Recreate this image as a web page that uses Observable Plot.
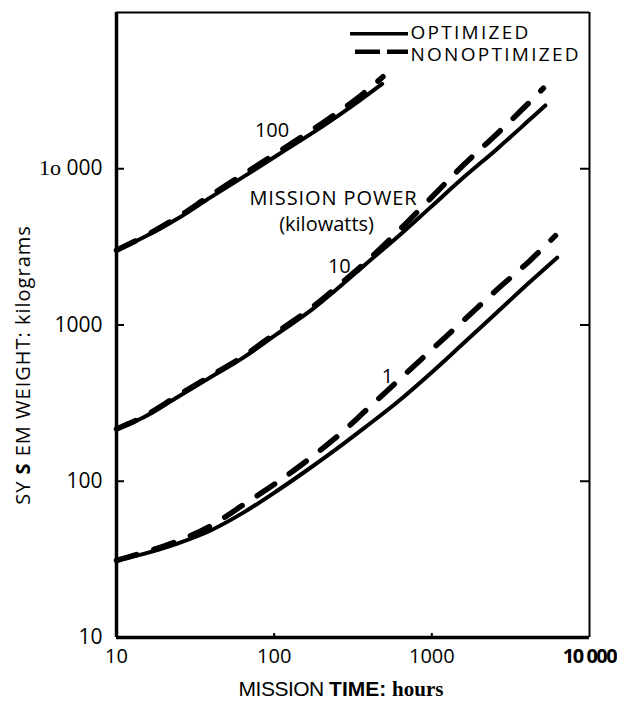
<!DOCTYPE html>
<html><head><meta charset="utf-8">
<script src="https://cdn.jsdelivr.net/npm/d3@7"></script>
<script src="https://cdn.jsdelivr.net/npm/@observablehq/plot@0.6"></script>
<style>
html,body{margin:0;padding:0;background:#fff;}
</style></head><body><div id="chart"></div>
<script>
// ---- data ----
const time100Opt   = [10, 14.9, 24.3, 39.5, 70.8, 121, 206, 336, 484];
const weight100Opt = [3010, 3640, 4780, 6560, 9480, 13400, 18900, 26600, 34900];
const time100Non   = [10, 14.9, 24.3, 39.5, 70.8, 121, 206, 336, 490];
const weight100Non = [3010, 3680, 4880, 6760, 9860, 13940, 19850, 28200, 38800];

const time10Opt   = [10, 14.9, 24.3, 39.5, 64.1, 104.5, 170, 276, 370, 603, 980, 1593, 2594, 4217, 5250];
const weight10Opt = [216, 257, 345, 463, 621, 877, 1236, 1850, 2390, 3640, 5660, 8810, 13400, 20800, 25400];
const time10Non   = [10, 14.9, 24.3, 39.5, 64.1, 104.5, 170, 276, 370, 603, 980, 1593, 2594, 4217, 5100];
const weight10Non = [216, 260, 352, 472, 633, 903, 1273, 1906, 2460, 3930, 6450, 10600, 16750, 27000, 32800];

const time1Opt   = [10, 14.9, 24.3, 39.5, 64.1, 104.5, 170, 276, 370, 603, 980, 1593, 2594, 4217, 6240];
const weight1Opt = [31.1, 34.3, 39.9, 48.4, 63.2, 86.9, 122, 174, 218, 320, 489, 767, 1208, 1897, 2700];
const time1Non   = [10, 14.9, 24.3, 39.5, 64.1, 104.5, 170, 276, 370, 603, 980, 1593, 2594, 4217, 6080];
const weight1Non = [31.1, 35.0, 41.4, 51.8, 71, 98.4, 141, 210, 276, 435, 683, 1072, 1687, 2600, 3730];

const xTickValues = [10, 100, 1000, 10000];
const xTickLabels = ["10", "100", "1000", "10 000"];
const yTickValues = [10, 100, 1000, 10000];
const yTickLabels = ["10", "100", "1000", "1o 000"];

const kinds = ["OPTIMIZED", "NONOPTIMIZED"];
const powerLabels = ["100", "10", "1"];
const xTitle = "MISSION TIME: hours";
const yTitle = "SY S EM WEIGHT: kilograms";
const powerTitle = "MISSION POWER";
const powerUnit = "(kilowatts)";

const series = [
  {power: "100", kind: "OPTIMIZED", times: time100Opt, weights: weight100Opt},
  {power: "100", kind: "NONOPTIMIZED", times: time100Non, weights: weight100Non},
  {power: "10", kind: "OPTIMIZED", times: time10Opt, weights: weight10Opt},
  {power: "10", kind: "NONOPTIMIZED", times: time10Non, weights: weight10Non},
  {power: "1", kind: "OPTIMIZED", times: time1Opt, weights: weight1Opt},
  {power: "1", kind: "NONOPTIMIZED", times: time1Non, weights: weight1Non}
];
const rows = series.flatMap(s => s.times.map((t, i) => ({power: s.power, kind: s.kind, time: t, weight: s.weights[i]})));

// ---- layout ----
const W = 617, H = 708, mL = 116, mR = 28, mT = 12, mB = 71;
const innerW = W - mL - mR, innerH = H - mT - mB;
const sans = "'Open Sans', 'DejaVu Sans', sans-serif";

const chart = Plot.plot({
  width: W, height: H,
  marginLeft: mL, marginRight: mR, marginTop: mT, marginBottom: mB,
  x: {type: "log", domain: [10, 10000], label: null},
  y: {type: "log", domain: [10, 100000], label: null},
  style: {background: "#fff", color: "#000", fontFamily: sans},
  marks: [
    // frame
    Plot.ruleX([10], {stroke: "#000", strokeWidth: 3.5}),
    Plot.ruleY([10], {stroke: "#000", strokeWidth: 3.5}),
    Plot.ruleX([10000], {stroke: "#000", strokeWidth: 2}),
    Plot.ruleY([100000], {stroke: "#000", strokeWidth: 2}),
    // inward ticks
    Plot.tickY(yTickValues.slice(1), {y: d => d, insetRight: innerW - 8, stroke: "#000", strokeWidth: 2}),
    Plot.tickY(yTickValues.slice(1), {y: d => d, insetLeft: innerW - 9, stroke: "#000", strokeWidth: 2}),
    Plot.tickX(xTickValues.slice(1, 3), {x: d => d, insetTop: innerH - 4, stroke: "#000", strokeWidth: 2}),
    // axes labels
    Plot.axisY({ticks: yTickValues, tickFormat: d => yTickLabels[yTickValues.indexOf(d)], tickSize: 0, tickPadding: 14, fontSize: 21, label: null, fill: "#000"}),
    Plot.axisX({ticks: xTickValues, tickFormat: d => xTickLabels[xTickValues.indexOf(d)], tickSize: 0, tickPadding: 11, fontSize: 20, label: null, fill: "#000"}),
    // curves
    Plot.line(rows.filter(d => d.kind === "OPTIMIZED"), {x: "time", y: "weight", z: "power", stroke: "#000", strokeWidth: 4, curve: "monotone-x"}),
    Plot.line(rows.filter(d => d.kind === "NONOPTIMIZED"), {x: "time", y: "weight", z: "power", stroke: "#000", strokeWidth: 5.5, strokeDasharray: "21,18", strokeLinecap: "round", curve: "monotone-x"}),
    // curve labels
    Plot.text([powerLabels[0]], {x: 97, y: 17500, text: d => d, fontSize: 20}),
    Plot.text([powerLabels[1]], {x: 259, y: 2370, text: d => d, fontSize: 20}),
    Plot.text([powerLabels[2]], {x: 523, y: 468, text: d => d, fontSize: 20}),
    Plot.text([powerTitle], {x: 238, y: 6400, text: d => d, fontSize: 20}),
    Plot.text([powerUnit], {x: 215, y: 4400, text: d => d, fontSize: 20}),
    // legend
    Plot.ruleY([73100], {x1: 305, x2: 711, stroke: "#000", strokeWidth: 3.5}),
    Plot.ruleY([56100], {x1: 328, x2: 711, stroke: "#000", strokeWidth: 4.5, strokeDasharray: "25,7"}),
    Plot.text([kinds[0]], {x: 731, y: 74000, text: d => d, textAnchor: "start", fontSize: 19}),
    Plot.text([kinds[1]], {x: 731, y: 53800, text: d => d, textAnchor: "start", fontSize: 19}),
    // axis titles
    Plot.text([xTitle], {frameAnchor: "bottom", text: d => d, textAnchor: "middle", lineAnchor: "middle", dy: 52, dx: -12, fontSize: 21}),
    Plot.text([yTitle], {frameAnchor: "left", text: d => d, textAnchor: "middle", lineAnchor: "middle", dx: -93, dy: 40, rotate: -90, fontSize: 20})
  ]
});

// letter spacing and mixed-font text runs
const spacing = {"MISSION POWER": 0.9, "OPTIMIZED": 2.3, "NONOPTIMIZED": 2.3};
chart.querySelectorAll("text").forEach(t => {
  const s = t.textContent;
  if (spacing[s] !== undefined) t.setAttribute("letter-spacing", spacing[s]);
  if (s === "1o 000") {
    t.innerHTML = '<tspan style="font-family:\'Liberation Serif\',serif;font-size:22px">1o</tspan> 000';
  } else if (s === "10 000") {
    t.setAttribute("font-weight", "bold");
    t.setAttribute("letter-spacing", "-1.5");
  } else if (s === xTitle) {
    t.innerHTML = '<tspan style="font-family:\'Liberation Sans\',sans-serif;letter-spacing:-0.5px">MISSION </tspan><tspan style="font-family:\'Liberation Sans\',sans-serif;font-weight:bold">TIME: </tspan><tspan style="font-family:\'Liberation Serif\',serif;font-weight:bold">hours</tspan>';
  } else if (s === yTitle) {
    t.setAttribute("letter-spacing", "1");
    t.innerHTML = 'SY <tspan style="font-weight:bold">S</tspan> EM WEIGHT: kilograms';
  }
});
document.getElementById("chart").appendChild(chart);
</script>
</body></html>
